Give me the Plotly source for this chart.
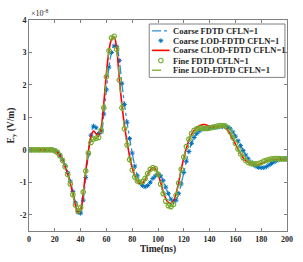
import plotly.graph_objects as go

t = list(range(0, 201, 2))

coarse_fdtd = [0,0,0,0,0,0,0,0,0,0,
 -0.02,-0.07,-0.16,-0.30,-0.48,-0.70,-0.97,-1.28,-1.63,-1.92,
 -1.95,-1.55,-0.85,-0.15,0.45,0.73,0.68,0.50,0.55,1.10,
 1.85,2.55,3.00,3.20,3.18,2.75,2.05,1.40,0.85,0.35,
 -0.10,-0.50,-0.80,-1.00,-1.10,-1.14,-1.10,-1.00,-0.88,-0.80,
 -0.76,-0.80,-0.95,-1.15,-1.35,-1.52,-1.60,-1.55,-1.35,-1.05,
 -0.70,-0.35,-0.05,0.20,0.38,0.50,0.58,0.63,0.66,0.68,
 0.68,0.68,0.69,0.70,0.71,0.72,0.72,0.70,0.65,0.55,
 0.42,0.28,0.13,-0.02,-0.16,-0.28,-0.38,-0.46,-0.51,-0.54,
 -0.55,-0.55,-0.52,-0.47,-0.42,-0.37,-0.33,-0.30,-0.28,-0.27,
 -0.26]

coarse_lod = list(coarse_fdtd)

coarse_clod = [0,0,0,0,0,0,0,0,0,-0.01,
 -0.03,-0.08,-0.18,-0.33,-0.52,-0.75,-1.02,-1.35,-1.70,-1.95,
 -1.85,-1.35,-0.65,-0.05,0.40,0.58,0.50,0.42,0.70,1.45,
 2.35,3.05,3.40,3.48,3.10,2.20,1.40,0.75,0.25,-0.20,
 -0.55,-0.80,-0.97,-1.05,-1.03,-0.92,-0.75,-0.62,-0.55,-0.58,
 -0.75,-1.00,-1.28,-1.50,-1.62,-1.65,-1.58,-1.35,-1.00,-0.60,
 -0.25,0.05,0.30,0.48,0.60,0.68,0.74,0.77,0.78,0.76,
 0.72,0.70,0.70,0.71,0.72,0.71,0.68,0.60,0.48,0.33,
 0.18,0.02,-0.12,-0.24,-0.33,-0.39,-0.43,-0.45,-0.46,-0.45,
 -0.42,-0.38,-0.34,-0.31,-0.30,-0.29,-0.29,-0.30,-0.31,-0.31,
 -0.30]

fine_fdtd = [0,0,0,0,0,0,0,0,0,0,
 -0.03,-0.08,-0.18,-0.33,-0.52,-0.76,-1.05,-1.38,-1.70,-1.88,
 -1.78,-1.30,-0.65,-0.10,0.22,0.33,0.36,0.38,0.60,1.30,
 2.25,3.05,3.45,3.50,3.10,2.15,1.30,0.65,0.15,-0.30,
 -0.62,-0.84,-0.96,-1.00,-0.98,-0.88,-0.73,-0.60,-0.55,-0.58,
 -0.75,-1.05,-1.35,-1.58,-1.72,-1.75,-1.68,-1.40,-1.02,-0.60,
 -0.22,0.10,0.33,0.50,0.60,0.65,0.67,0.67,0.66,0.66,
 0.67,0.69,0.71,0.73,0.75,0.75,0.74,0.68,0.55,0.38,
 0.20,0.03,-0.12,-0.24,-0.33,-0.39,-0.42,-0.43,-0.43,-0.42,
 -0.39,-0.35,-0.32,-0.30,-0.28,-0.27,-0.27,-0.27,-0.28,-0.28,
 -0.28]

fine_lod = list(fine_fdtd)

series_names = ["Coarse FDTD CFLN=1", "Coarse LOD-FDTD CFLN=1", "Coarse CLOD-FDTD CFLN=1",
                "Fine FDTD CFLN=1", "Fine LOD-FDTD CFLN=1"]

xticks = [0, 20, 40, 60, 80, 100, 120, 140, 160, 180, 200]
yticks = [-2, -1, 0, 1, 2, 3, 4]

FONT = "Liberation Serif"
BLUE = "#0072BD"
LBLUE = "#2b8fd6"
RED = "#FF0000"
GREEN = "#77AC30"
AXC = "#808080"
TXT = "#262626"

line_styles = [dict(color=LBLUE, width=1.3, dash="dashdot"), None,
               dict(color=RED, width=1.6), None,
               dict(color=GREEN, width=1.3, dash="dash")]
marker_styles = [None, dict(symbol="asterisk-open", size=4, color=BLUE, line=dict(color=BLUE, width=1)),
                 None, dict(symbol="circle-open", size=4.5, color=GREEN, line=dict(color=GREEN, width=1.2)),
                 None]
series_values = [coarse_fdtd, coarse_lod, coarse_clod, fine_fdtd, fine_lod]

fig = go.Figure()
for name, vals, ls, ms in zip(series_names, series_values, line_styles, marker_styles):
    if ls is not None:
        fig.add_trace(go.Scatter(x=t, y=vals, mode="lines", name=name, showlegend=False,
                                 line=dict(shape="spline", **ls)))
    else:
        fig.add_trace(go.Scatter(x=t, y=vals, mode="markers", name=name, showlegend=False,
                                 marker=ms))

# Custom legend (paper-like overlay axes)
lx0, lx1, ly0, ly1 = 0.466, 0.992, 0.728, 0.981
fig.add_trace(go.Scatter(x=[lx0, lx1, lx1, lx0, lx0], y=[ly0, ly0, ly1, ly1, ly0],
                         xaxis="x2", yaxis="y2", mode="lines", fill="toself",
                         fillcolor="white", line=dict(color=AXC, width=1),
                         showlegend=False, hoverinfo="skip"))
row_y = [0.948, 0.902, 0.856, 0.808, 0.762]
sx0, sx1, smx, tx = 0.477, 0.545, 0.511, 0.551
for name, ry, ls, ms in zip(series_names, row_y, line_styles, marker_styles):
    if ls is not None:
        fig.add_trace(go.Scatter(x=[sx0, sx1], y=[ry, ry], xaxis="x2", yaxis="y2", mode="lines",
                                 line=ls, showlegend=False, hoverinfo="skip"))
    else:
        fig.add_trace(go.Scatter(x=[smx], y=[ry], xaxis="x2", yaxis="y2", mode="markers",
                                 marker=ms, showlegend=False, hoverinfo="skip"))
    fig.add_annotation(text=f"<b>{name}</b>", xref="paper", yref="paper", x=tx, y=ry,
                       xanchor="left", yanchor="middle", showarrow=False,
                       font=dict(family=FONT, size=8.5, color=TXT))

axis_common = dict(showgrid=False, zeroline=False, showline=True, linecolor=AXC,
                   linewidth=1, mirror="allticks", ticks="inside", ticklen=3,
                   tickcolor=AXC, tickfont=dict(family=FONT, size=8, color=TXT))

fig.update_xaxes(range=[0, 200], tickvals=xticks, ticktext=[f"<b>{v}</b>" for v in xticks],
                 title=dict(text="<b>Time(ns)</b>", font=dict(family=FONT, size=9.5, color=TXT),
                            standoff=2), **axis_common)
fig.update_yaxes(range=[-2.5, 4], tickvals=yticks, ticktext=[f"<b>{v}</b>" for v in yticks],
                 title=dict(text="<b>E<sub>y</sub> (V/m)</b>", font=dict(family=FONT, size=9.5, color=TXT),
                            standoff=3), **axis_common)

fig.update_layout(
    xaxis2=dict(overlaying="x", range=[0, 1], visible=False),
    yaxis2=dict(overlaying="y", range=[0, 1], visible=False),
)

fig.add_annotation(text="×10<sup>-8</sup>", xref="paper", yref="paper", x=0.0, y=1.0,
                   xanchor="left", yanchor="bottom", showarrow=False,
                   font=dict(family=FONT, size=8, color=TXT))

fig.update_layout(
    width=303, height=262,
    margin=dict(l=29, r=10, t=20, b=29),
    paper_bgcolor="white", plot_bgcolor="white",
    font=dict(family=FONT, color=TXT),
    showlegend=False,
)

fig.write_html("out.html", config={"displayModeBar": False},
               post_script="document.body.style.margin='0';")
